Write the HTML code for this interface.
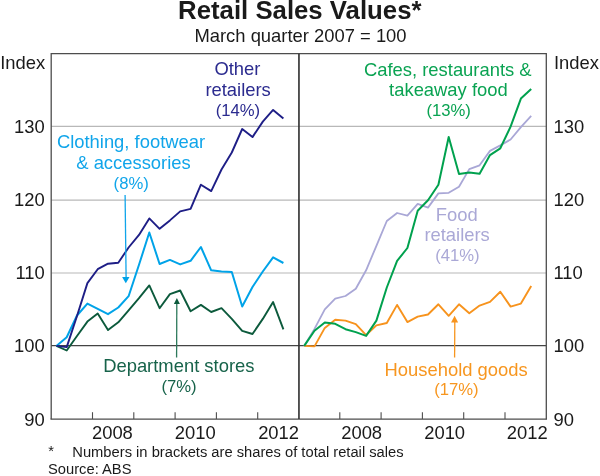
<!DOCTYPE html>
<html><head><meta charset="utf-8"><title>Retail Sales Values</title>
<style>
html,body{margin:0;padding:0;background:#fff}
svg{display:block;will-change:transform}
svg text{font-family:"Liberation Sans",Arial,Helvetica,sans-serif}
</style></head><body>
<svg width="600" height="476" viewBox="0 0 600 476">
<rect width="600" height="476" fill="#fff"/>
<line x1="51.2" x2="546.3" y1="126.35" y2="126.35" stroke="#b8b8b8" stroke-width="1.2"/>
<line x1="51.2" x2="546.3" y1="200.10" y2="200.10" stroke="#b8b8b8" stroke-width="1.2"/>
<line x1="51.2" x2="546.3" y1="273.00" y2="273.00" stroke="#b8b8b8" stroke-width="1.2"/>
<line x1="51.2" x2="546.3" y1="345.7" y2="345.7" stroke="#444" stroke-width="1.3"/>
<polyline fill="none" stroke="#0c5a3c" stroke-width="1.9" stroke-linejoin="round" stroke-linecap="butt" points="56.4,345.9 66.7,350.5 77.0,336.0 87.4,321.6 97.7,313.5 108.0,330.1 118.3,322.3 128.6,310.3 139.0,298.2 149.3,285.4 159.6,308.2 169.9,294.1 180.2,290.5 190.6,311.2 200.9,304.9 211.2,312.0 221.5,308.2 231.8,318.8 242.2,330.8 252.5,334.0 262.8,318.9 273.1,302.1 283.4,329.3"/>
<polyline fill="none" stroke="#00a3e8" stroke-width="2.0" stroke-linejoin="round" stroke-linecap="butt" points="56.4,345.9 66.7,337.3 77.0,315.5 87.4,303.6 97.7,308.8 108.0,314.2 118.3,307.5 128.6,296.2 139.0,264.8 149.3,232.5 159.6,264.0 169.9,259.9 180.2,264.4 190.6,260.8 200.9,247.0 211.2,270.3 221.5,271.4 231.8,272.0 242.2,306.5 252.5,287.0 262.8,271.5 273.1,257.4 283.4,263.0"/>
<polyline fill="none" stroke="#1e1e86" stroke-width="1.9" stroke-linejoin="round" stroke-linecap="butt" points="56.4,345.9 66.7,347.1 77.0,316.0 87.4,283.1 97.7,269.2 108.0,263.7 118.3,262.7 128.6,247.5 139.0,234.9 149.3,218.4 159.6,228.8 169.9,220.4 180.2,211.4 190.6,208.9 200.9,184.7 211.2,191.1 221.5,169.5 231.8,152.5 242.2,129.0 252.5,137.1 262.8,121.6 273.1,109.9 283.4,118.5"/>
<polyline fill="none" stroke="#a9a7d6" stroke-width="1.8" stroke-linejoin="round" stroke-linecap="butt" points="304.2,345.9 314.5,328.9 324.8,309.4 335.2,298.6 345.5,296.0 355.8,288.8 366.1,270.3 376.4,245.8 386.8,221.0 397.1,213.0 407.4,215.6 417.7,203.9 428.0,207.6 438.4,193.4 448.7,192.8 459.0,186.7 469.3,169.1 479.6,165.3 490.0,150.9 500.3,145.4 510.6,139.5 520.9,127.1 531.2,115.9"/>
<polyline fill="none" stroke="#f7931d" stroke-width="1.9" stroke-linejoin="round" stroke-linecap="butt" points="304.2,345.9 314.5,346.4 324.8,327.9 335.2,319.8 345.5,320.6 355.8,324.2 366.1,335.1 376.4,325.4 386.8,323.0 397.1,304.9 407.4,322.1 417.7,316.6 428.0,314.5 438.4,304.3 448.7,315.8 459.0,304.3 469.3,313.3 479.6,305.6 490.0,301.9 500.3,291.7 510.6,306.6 520.9,303.6 531.2,286.1"/>
<polyline fill="none" stroke="#00a14e" stroke-width="2.0" stroke-linejoin="round" stroke-linecap="butt" points="304.2,345.9 314.5,330.7 324.8,322.5 335.2,323.8 345.5,329.2 355.8,332.1 366.1,335.9 376.4,320.6 386.8,287.5 397.1,260.9 407.4,248.0 417.7,210.8 428.0,200.3 438.4,184.8 448.7,137.0 459.0,174.0 469.3,172.5 479.6,173.7 490.0,155.1 500.3,148.3 510.6,126.6 520.9,98.6 531.2,89.0"/>
<path d="M51.2,419.2 V53.7 H546.3 V419.2" fill="none" stroke="#4d4d4d" stroke-width="1.3"/>
<line x1="50.55" x2="546.95" y1="419.15" y2="419.15" stroke="#4d4d4d" stroke-width="1.3"/>
<line x1="298.95" x2="298.95" y1="53.7" y2="419" stroke="#333" stroke-width="1.65"/>
<line x1="92.5" x2="92.5" y1="412.2" y2="419" stroke="#4d4d4d" stroke-width="1.1"/>
<line x1="339.8" x2="339.8" y1="412.2" y2="419" stroke="#4d4d4d" stroke-width="1.1"/>
<line x1="133.8" x2="133.8" y1="412.2" y2="419" stroke="#4d4d4d" stroke-width="1.1"/>
<line x1="381.1" x2="381.1" y1="412.2" y2="419" stroke="#4d4d4d" stroke-width="1.1"/>
<line x1="175.1" x2="175.1" y1="412.2" y2="419" stroke="#4d4d4d" stroke-width="1.1"/>
<line x1="422.4" x2="422.4" y1="412.2" y2="419" stroke="#4d4d4d" stroke-width="1.1"/>
<line x1="216.4" x2="216.4" y1="412.2" y2="419" stroke="#4d4d4d" stroke-width="1.1"/>
<line x1="463.7" x2="463.7" y1="412.2" y2="419" stroke="#4d4d4d" stroke-width="1.1"/>
<line x1="257.7" x2="257.7" y1="412.2" y2="419" stroke="#4d4d4d" stroke-width="1.1"/>
<line x1="505.0" x2="505.0" y1="412.2" y2="419" stroke="#4d4d4d" stroke-width="1.1"/>
<line x1="125.1" x2="126.1" y1="195.0" y2="277.5" stroke="#10a5ea" stroke-width="1.3"/>
<polygon points="122.1,277.0 129.5,277.0 125.8,283.2" fill="#00a3e8"/>
<line x1="176.6" x2="176.8" y1="357.5" y2="303.5" stroke="#2e7a5c" stroke-width="1.3"/>
<polygon points="173.85,304.0 179.85,304.0 176.85,297.9" fill="#0c5a3c"/>
<line x1="454.6" x2="454.8" y1="357.5" y2="321.90000000000003" stroke="#f7961f" stroke-width="1.3"/>
<polygon points="451.05,322.40000000000003 458.15000000000003,322.40000000000003 454.6,315.8" fill="#f7931d"/>
<text x="299.8" y="18.8" fill="#1a1a1a" font-size="25" font-weight="bold" text-anchor="middle" textLength="243.4" lengthAdjust="spacingAndGlyphs">Retail Sales Values*</text>
<text x="300.5" y="42.3" fill="#1a1a1a" font-size="18.4" text-anchor="middle">March quarter 2007 = 100</text>
<text x="45.2" y="68.6" fill="#1a1a1a" font-size="18.4" text-anchor="end">Index</text>
<text x="554.0" y="68.5" fill="#1a1a1a" font-size="18.4" text-anchor="start">Index</text>
<text x="44.8" y="425.90" fill="#1a1a1a" font-size="18.4" text-anchor="end">90</text>
<text x="553.5" y="425.90" fill="#1a1a1a" font-size="18.4" text-anchor="start">90</text>
<text x="44.8" y="352.45" fill="#1a1a1a" font-size="18.4" text-anchor="end">100</text>
<text x="553.5" y="352.45" fill="#1a1a1a" font-size="18.4" text-anchor="start">100</text>
<text x="44.8" y="279.45" fill="#1a1a1a" font-size="18.4" text-anchor="end">110</text>
<text x="553.5" y="279.45" fill="#1a1a1a" font-size="18.4" text-anchor="start">110</text>
<text x="44.8" y="206.45" fill="#1a1a1a" font-size="18.4" text-anchor="end">120</text>
<text x="553.5" y="206.45" fill="#1a1a1a" font-size="18.4" text-anchor="start">120</text>
<text x="44.8" y="133.45" fill="#1a1a1a" font-size="18.4" text-anchor="end">130</text>
<text x="553.5" y="133.45" fill="#1a1a1a" font-size="18.4" text-anchor="start">130</text>
<text x="112.4" y="439.0" fill="#1a1a1a" font-size="18.4" text-anchor="middle">2008</text>
<text x="361.65" y="439.0" fill="#1a1a1a" font-size="18.4" text-anchor="middle">2008</text>
<text x="195.2" y="439.0" fill="#1a1a1a" font-size="18.4" text-anchor="middle">2010</text>
<text x="444.65" y="439.0" fill="#1a1a1a" font-size="18.4" text-anchor="middle">2010</text>
<text x="278.6" y="439.0" fill="#1a1a1a" font-size="18.4" text-anchor="middle">2012</text>
<text x="527.3" y="439.0" fill="#1a1a1a" font-size="18.4" text-anchor="middle">2012</text>
<text x="237.4" y="74.9" fill="#2b2b8f" font-size="18.4" text-anchor="middle">Other</text>
<text x="238.1" y="95.5" fill="#2b2b8f" font-size="18.4" text-anchor="middle">retailers</text>
<text x="237.9" y="115.6" fill="#2b2b8f" font-size="16.67" text-anchor="middle">(14%)</text>
<text x="131.0" y="147.5" fill="#10a5ea" font-size="18.4" text-anchor="middle">Clothing, footwear</text>
<text x="133.5" y="168.7" fill="#10a5ea" font-size="18.4" text-anchor="middle">&amp; accessories</text>
<text x="131.2" y="189.1" fill="#10a5ea" font-size="16.67" text-anchor="middle">(8%)</text>
<text x="178.8" y="372.1" fill="#17634a" font-size="18.4" text-anchor="middle">Department stores</text>
<text x="179.0" y="392.0" fill="#17634a" font-size="16.67" text-anchor="middle">(7%)</text>
<text x="447.8" y="75.8" fill="#0aa352" font-size="18.4" text-anchor="middle">Cafes, restaurants &amp;</text>
<text x="448.4" y="96.3" fill="#0aa352" font-size="18.4" text-anchor="middle">takeaway food</text>
<text x="448.6" y="116.3" fill="#0aa352" font-size="16.67" text-anchor="middle">(13%)</text>
<text x="456.8" y="220.5" fill="#aaa8d6" font-size="18.4" text-anchor="middle">Food</text>
<text x="457.1" y="241.0" fill="#aaa8d6" font-size="18.4" text-anchor="middle">retailers</text>
<text x="457.4" y="261.1" fill="#aaa8d6" font-size="16.67" text-anchor="middle">(41%)</text>
<text x="456.1" y="375.6" fill="#f7961f" font-size="18.4" text-anchor="middle">Household goods</text>
<text x="456.4" y="394.9" fill="#f7961f" font-size="16.67" text-anchor="middle">(17%)</text>
<text x="48.3" y="455.6" fill="#1a1a1a" font-size="14.72" text-anchor="start">*</text>
<text x="72.3" y="457.3" fill="#1a1a1a" font-size="14.72" text-anchor="start">Numbers in brackets are shares of total retail sales</text>
<text x="48.0" y="473.5" fill="#1a1a1a" font-size="14.72" text-anchor="start">Source: ABS</text>
</svg>
</body></html>
